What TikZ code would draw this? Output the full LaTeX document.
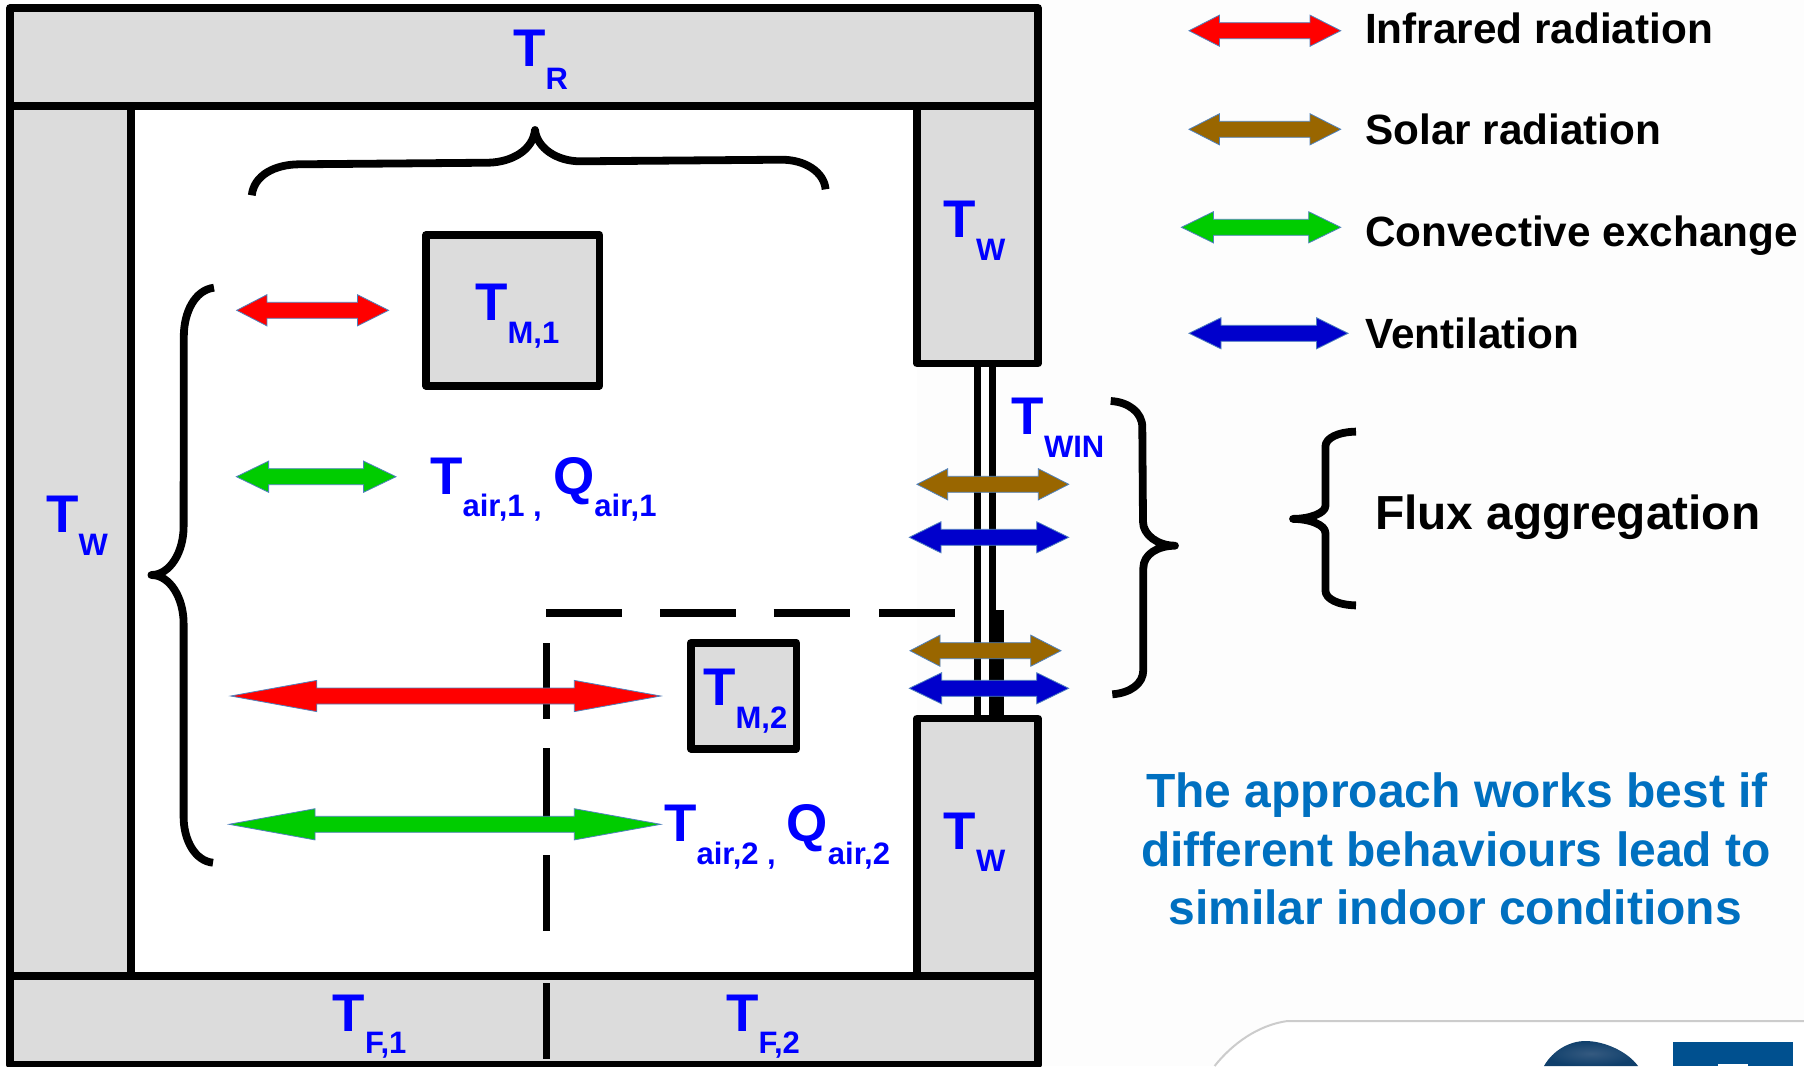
\documentclass[tikz,border=0pt]{standalone}
\usepackage{fontspec}
\setmainfont{Liberation Sans}
\usepackage{tikz}
\usetikzlibrary{positioning}

\definecolor{wallgray}{HTML}{DCDCDC}
\definecolor{irred}{HTML}{FF0000}
\definecolor{solarbrown}{HTML}{996600}
\definecolor{convgreen}{HTML}{00CC00}
\definecolor{ventblue}{HTML}{0000CC}
\definecolor{arrowedge}{HTML}{4F81BD}
\definecolor{notecolor}{HTML}{0070C0}
\definecolor{sheetwhite}{HTML}{FDFDFD}
\definecolor{logoblue}{HTML}{00508F}
\definecolor{domeblue}{HTML}{0F3F6B}
\definecolor{domelight}{HTML}{355A80}

\tikzset{
  wall/.style={draw=black, fill=wallgray, line width=7.6pt, line join=round},
  dashline/.style={draw=black, line width=7.6pt},
  winline/.style={draw=black, line width=7.4pt},
  bracket/.style={draw=black, line width=7.8pt, line join=round},
  fluxarrow/.style={draw=arrowedge, line width=0.8pt, fill=#1},
  templabel/.style={text=blue, font=\bfseries, anchor=base west, inner sep=0pt},
  legendlabel/.style={text=black, font=\fontsize{42.3}{42.3}\selectfont\bfseries, anchor=base west, inner sep=0pt},
  notelabel/.style={text=notecolor, font=\fontsize{48}{58}\selectfont\bfseries, anchor=base, inner sep=0pt}
}

% color, left tip, left neck, right neck, right tip, height
\newcommand{\fluxarrow}[6]{%
  \draw[fluxarrow=#1] (#2,#6) -- (#3,#6-15.6) -- (#3,#6-8) -- (#4,#6-8) -- (#4,#6-15.6)
    -- (#5,#6) -- (#4,#6+15.6) -- (#4,#6+8) -- (#3,#6+8) -- (#3,#6+15.6) -- cycle;
}
\newcommand{\tsub}[2]{{\fontsize{53}{53}\selectfont #1}\raisebox{-22.7pt}{\fontsize{31}{31}\selectfont #2}}

\begin{document}
\begin{tikzpicture}[x=1pt, y=-1pt]
        \useasboundingbox (0, 0) rectangle (1804, 1066);
        \fill[sheetwhite] (0, 0) rectangle (1804, 1066);
        \fill[white] (131, 106) rectangle (917, 976);

        % corner of the next slide panel
        \fill[white] (1214.6, 1066) .. controls (1232, 1044) and (1258, 1025) .. (1287.5, 1021) -- (1804, 1021) -- (1804, 1066) -- cycle;
        \draw[gray!40, line width=2pt] (1214.6, 1066) .. controls (1232, 1044) and (1258, 1025) .. (1287.5, 1021) -- (1804, 1021);
        \shade[inner color=domelight, outer color=domeblue] (1544, 1066) .. controls (1553, 1050) and (1570, 1041) .. (1585.4, 1041) .. controls (1605, 1041) and (1628, 1052) .. (1638, 1066) -- cycle;
        \fill[logoblue] (1673, 1042) rectangle (1792.5, 1066);
        \fill[white] (1717.5, 1064) rectangle (1748, 1066);

        % window
        \draw[winline] (977.5, 363) -- (977.5, 719);
        \draw[winline] (992.5, 363) -- (992.5, 719);
        \draw[line width=15pt, rounded corners=3pt] (996.5, 610) -- (996.5, 716);

        % building envelope
        \draw[wall] (10, 106) rectangle (131, 975.7);
        \draw[wall] (917, 106) rectangle (1038, 363.5);
        \draw[wall] (917, 718.5) rectangle (1038, 975.7);
        \draw[wall] (10, 8) rectangle (1038, 106);
        \draw[wall] (10, 975.7) rectangle (1038, 1065);

        % thermal masses
        \draw[wall] (426, 235) rectangle (599.4, 385.7);
        \draw[wall] (690.7, 643) rectangle (796.3, 748.7);

        % zone split
        \foreach \y in {643, 748, 855, 983} \draw[dashline] (546.5, \y) -- ++(0, 75.5);
        \foreach \x in {546, 660, 773.5, 879} \draw[dashline] (\x, 612.7) -- ++(76, 0);

        % curly brackets
        \draw[bracket] (251.8, 195.3) .. controls (254, 175) and (275, 164.5) .. (299, 164.3) -- (488.7, 162.7)
                .. controls (512, 162) and (533, 150) .. (535, 130) .. controls (537, 148) and (557, 161.5) .. (580.7, 161.3)
                -- (781, 159.7) .. controls (805, 159.5) and (824, 172) .. (825.6, 189.3);
        \draw[bracket] (214, 287.7) .. controls (195, 290) and (183.8, 312) .. (183.8, 336.7) -- (183.6, 526.7)
                .. controls (183.6, 552) and (170, 575) .. (151.4, 575) .. controls (170, 575) and (183.6, 598) .. (183.6, 623.3)
                -- (183.6, 816.7) .. controls (183.6, 840) and (195, 861) .. (213, 862.7);
        \draw[bracket] (1110.7, 401) .. controls (1128, 402) and (1142.3, 412) .. (1142.3, 427.3) -- (1143, 521.7)
                .. controls (1143, 535) and (1158, 545.7) .. (1175, 545.7) .. controls (1158, 545.7) and (1143.3, 554) .. (1143.3, 568.3)
                -- (1143.3, 670) .. controls (1143.3, 684) and (1130, 693) .. (1112.3, 694.3);
        \draw[bracket] (1356, 431.6) .. controls (1338, 432) and (1325.4, 438) .. (1325.4, 446.7) -- (1325.4, 506)
                .. controls (1325.4, 513) and (1310, 518.9) .. (1293, 518.9) .. controls (1310, 518.9) and (1325.4, 525) .. (1325.4, 532.9)
                -- (1325.4, 590.3) .. controls (1325.4, 599) and (1338, 605) .. (1356, 605.4);

        % exchanges in the room
        \fluxarrow{irred}{236.7}{266.9}{357.5}{388.6}{310.3}
        \fluxarrow{convgreen}{236.4}{268.6}{363.6}{396}{476.7}
        \fluxarrow{irred}{230.7}{316.8}{574.3}{660.7}{696}
        \fluxarrow{convgreen}{229}{315}{574.3}{660.7}{824.3}

        % exchanges through the window
        \fluxarrow{solarbrown}{917}{947.7}{1038.3}{1068.7}{484.3}
        \fluxarrow{ventblue}{909.3}{941}{1036.7}{1068.7}{537.3}
        \fluxarrow{solarbrown}{910}{940}{1030.7}{1061}{650.7}
        \fluxarrow{ventblue}{909.3}{941.7}{1036.7}{1068.7}{688.3}

        % legend
        \fluxarrow{irred}{1189}{1219.5}{1310}{1340.7}{30.7}
        \fluxarrow{solarbrown}{1189}{1219.5}{1310}{1340.7}{129.3}
        \fluxarrow{convgreen}{1181.4}{1213.4}{1308.7}{1340.7}{227.3}
        \fluxarrow{ventblue}{1189}{1221}{1316.5}{1348}{333.3}
        \node[legendlabel] (infrared) at (1365, 43) {Infrared radiation};
        \node[legendlabel] (solar) at (1365, 144.7) {Solar radiation};
        \node[legendlabel] (convective) at (1365, 246.4) {Convective exchange};
        \node[legendlabel] (ventilation) at (1365, 348.7) {Ventilation};

        % temperatures
        \node[templabel] (troof) at (513, 66.7) {\tsub{T}{R}};
        \node[templabel] (twleft) at (46, 532.7) {\tsub{T}{W}};
        \node[templabel] (twup) at (943.5, 237.3) {\tsub{T}{W}};
        \node[templabel] (twlow) at (943.5, 849) {\tsub{T}{W}};
        \node[templabel] (twin) at (1011.5, 434.3) {\tsub{T}{WIN}};
        \node[templabel] (tmone) at (475, 320.7) {\tsub{T}{M,1}};
        \node[templabel] (tmtwo) at (703, 705.7) {\tsub{T}{M,2}};
        \node[templabel] (tairone) at (430, 494) {\tsub{T}{air,1 ,}};
        \node[templabel] (qairone) at (553, 494) {\tsub{Q}{air,1}};
        \node[templabel] (tairtwo) at (664, 841.7) {\tsub{T}{air,2 ,}};
        \node[templabel] (qairtwo) at (786.5, 841.7) {\tsub{Q}{air,2}};
        \node[templabel] (tfone) at (332.5, 1031) {\tsub{T}{F,1}};
        \node[templabel] (tftwo) at (726, 1031) {\tsub{T}{F,2}};

        % side notes
        \node[anchor=base west, inner sep=0pt, font=\fontsize{47.8}{47.8}\selectfont\bfseries] (aggregation) at (1375, 529.3) {Flux aggregation};
        \node[notelabel] (noteone) at (1457, 807.6) {The approach works best if};
        \node[notelabel] (notetwo) at (1456, 866) {different behaviours lead to};
        \node[notelabel] (notethree) at (1455, 924.2) {similar indoor conditions};
\end{tikzpicture}
\end{document}
